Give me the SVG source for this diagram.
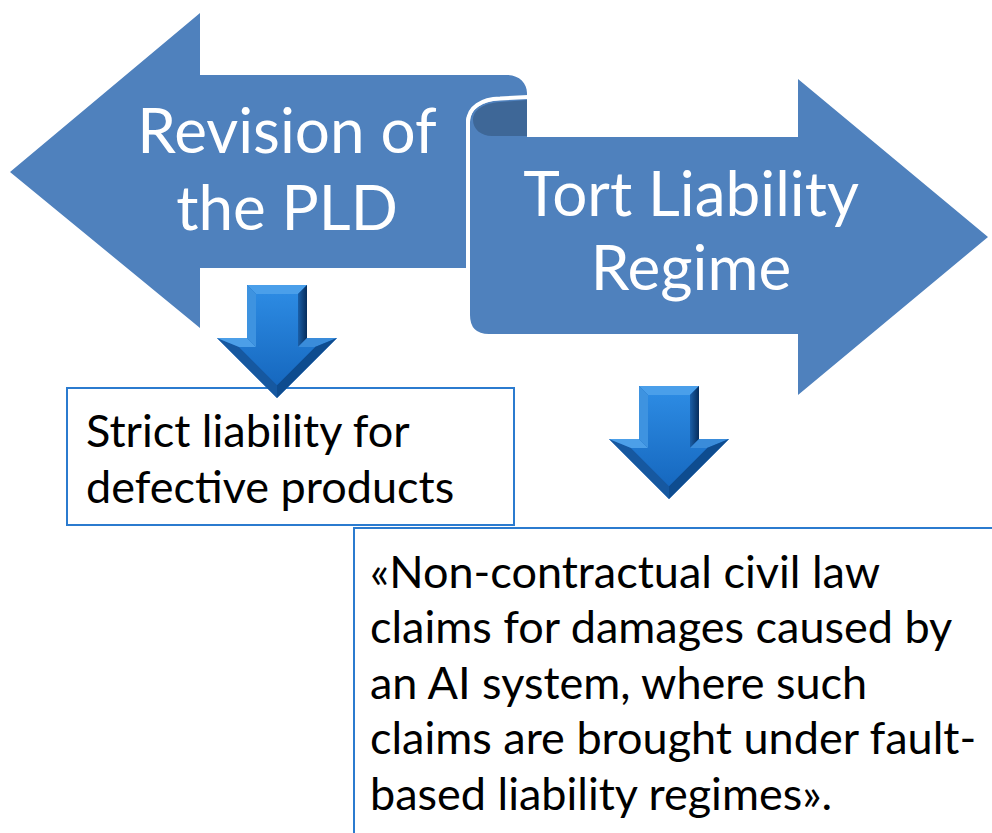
<svg xmlns="http://www.w3.org/2000/svg" width="992" height="833" viewBox="0 0 992 833">
  <style>
    .shape { fill: #4F81BD; }
    .scroll-back { fill: #3E6797; }
    .gap { fill: none; stroke: #FFFFFF; stroke-width: 4; }
    .title { font-family: Lato, "Open Sans", sans-serif; font-size: 62px; fill: #FFFFFF; text-anchor: middle; }
    .box { fill: #FFFFFF; stroke: #2B7BCF; stroke-width: 2; }
    .body { font-family: Lato, "Open Sans", sans-serif; font-size: 45px; fill: #000000; }
  </style>
  <defs>
    <linearGradient id="faceGrad" x1="0" y1="0" x2="0" y2="1">
      <stop offset="0" stop-color="#2C8AE2"/>
      <stop offset="1" stop-color="#1668BF"/>
    </linearGradient>
    <linearGradient id="rightEdge" x1="0" y1="0" x2="1" y2="0">
      <stop offset="0" stop-color="#1A5FA8"/>
      <stop offset="1" stop-color="#062D5C"/>
    </linearGradient>
    <!-- bevelled down arrow, tip at (0,113) -->
    <g id="downArrow">
      <polygon points="-30,0 30,0 30,53 60,53 0,113 -60,53 -30,53" fill="#1565C0"/>
      <polygon points="-30,0 30,0 21,9 -21,9" fill="#4A9FEA"/>
      <polygon points="30,0 30,53 21,62 21,9" fill="url(#rightEdge)"/>
      <polygon points="30,53 60,53 38,62 21,62" fill="#3A8CDA"/>
      <polygon points="60,53 0,113 0,100 38,62" fill="#0E4C8F"/>
      <polygon points="0,113 -60,53 -38,62 0,100" fill="#1658A0"/>
      <polygon points="-60,53 -30,53 -21,62 -38,62" fill="#4C9FE8"/>
      <polygon points="-30,53 -30,0 -21,9 -21,62" fill="#3E93E0"/>
      <polygon points="-21,9 21,9 21,62 38,62 0,100 -38,62 -21,62" fill="url(#faceGrad)"/>
    </g>
  </defs>

  <!-- scroll-shaped double arrow -->
  <g id="revision-pld">
    <path class="shape" d="M10,172 L200,13 L200,75 L507,75 C519,75 527,83 527,93 L527,100 L500,100 C483,101 466,109 466,122 L466,268 L200,268 L200,328 Z"/>
    <text class="title" x="287" y="153">Revision of</text>
    <text class="title" x="287" y="230">the PLD</text>
  </g>

  <g id="tort-liability">
    <path class="shape" d="M470,122 C470,109 483,101 500,100 L527,99 L527,137 L798,137 L798,79 L988,237 L798,395 L798,334 L489,334 Q470,334 470,315 Z"/>
    <path class="scroll-back" d="M527,100 L527,136 L492,136 C481,136 473,129 473,120 C473,110 484,103 500,102 Z"/>
    <path class="gap" d="M468,334 L468,122 C468,107 482,99 500,98.5 L528,97"/>
    <text class="title" x="691" y="216" font-size="63">Tort Liability</text>
    <text class="title" x="691" y="290" font-size="63">Regime</text>
  </g>

  <g id="strict-liability">
    <rect class="box" x="67" y="388" width="447" height="137"/>
    <text class="body" x="86" y="447">Strict liability for</text>
    <text class="body" x="86" y="503">defective products</text>
  </g>

  <g id="tort-scope">
    <rect class="box" x="354" y="528" width="700" height="400"/>
    <text class="body" x="370" y="588">«Non-contractual civil law</text>
    <text class="body" x="370" y="643">claims for damages caused by</text>
    <text class="body" x="370" y="699">an AI system, where such</text>
    <text class="body" x="370" y="754">claims are brought under fault-</text>
    <text class="body" x="370" y="810">based liability regimes».</text>
  </g>

  <!-- down arrows -->
  <g id="connectors">
    <use href="#downArrow" x="277" y="285"/>
    <use href="#downArrow" x="669" y="386"/>
  </g>
</svg>
